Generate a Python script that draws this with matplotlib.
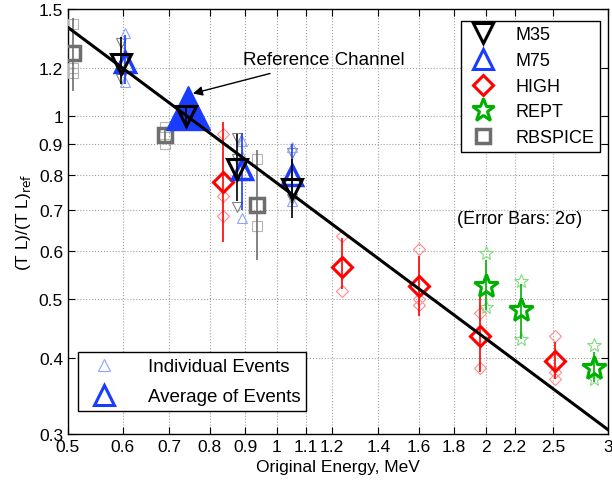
import numpy as np
import matplotlib
matplotlib.use("Agg")
import matplotlib.pyplot as plt
from matplotlib.lines import Line2D

plt.rcParams['font.family'] = ['Liberation Sans', 'DejaVu Sans']

# ---- data (energy MeV, ratio) ----
m35_x = [0.596, 0.74, 0.876, 1.05]
m35_y = [1.22, 1.0, 0.82, 0.76]
m35_lo = [1.13, 0.97, 0.725, 0.68]
m35_hi = [1.35, 1.03, 0.935, 0.85]
m35_ind_x = [0.596, 0.596, 0.876, 0.876, 0.876, 1.05, 1.05]
m35_ind_y = [1.32, 1.15, 0.92, 0.85, 0.71, 0.87, 0.73]

m75_x = [0.604, 0.745, 0.89, 1.05]
m75_y = [1.23, 1.03, 0.82, 0.80]
m75_lo = [1.13, 1.0, 0.70, 0.725]
m75_hi = [1.36, 1.05, 0.94, 0.90]
m75_ind_x = [0.604, 0.604, 0.89, 0.89, 0.89, 1.05, 1.05]
m75_ind_y = [1.37, 1.14, 0.91, 0.86, 0.68, 0.89, 0.725]

high_x = [0.836, 1.24, 1.60, 1.96, 2.52]
high_y = [0.78, 0.565, 0.525, 0.435, 0.395]
high_lo = [0.62, 0.52, 0.47, 0.38, 0.37]
high_hi = [0.98, 0.63, 0.59, 0.505, 0.425]
high_ind_x = [0.836, 0.836, 0.836, 1.24, 1.24, 1.60, 1.60, 1.60, 1.96, 1.96, 2.52, 2.52, 2.52]
high_ind_y = [0.935, 0.74, 0.685, 0.635, 0.515, 0.605, 0.50, 0.49, 0.475, 0.385, 0.435, 0.38, 0.37]

rept_x = [2.0, 2.25, 2.86]
rept_y = [0.525, 0.48, 0.385]
rept_lo = [0.48, 0.43, 0.365]
rept_hi = [0.58, 0.53, 0.41]
rept_ind_x = [2.0, 2.0, 2.25, 2.25, 2.86, 2.86]
rept_ind_y = [0.595, 0.485, 0.535, 0.43, 0.42, 0.37]

rbs_x = [0.508, 0.69, 0.937]
rbs_y = [1.27, 0.93, 0.715]
rbs_lo = [1.10, 0.90, 0.58]
rbs_hi = [1.45, 0.96, 0.88]
rbs_ind_x = [0.508, 0.508, 0.508, 0.69, 0.69, 0.937, 0.937]
rbs_ind_y = [1.42, 1.20, 1.18, 0.96, 0.90, 0.85, 0.66]

fit_x = [0.5, 3.0]
fit_y = [1.40, 0.305]

xticks = [0.5, 0.6, 0.7, 0.8, 0.9, 1, 1.1, 1.2, 1.4, 1.6, 1.8, 2, 2.2, 2.5, 3]
yticks = [0.3, 0.4, 0.5, 0.6, 0.7, 0.8, 0.9, 1, 1.2, 1.5]

fig = plt.figure(figsize=(6.12, 4.85), dpi=100)
ax = fig.add_axes([0.111, 0.103, 0.8825, 0.876])
ax.set_xscale('log')
ax.set_yscale('log')

# individual events
ax.plot(m35_ind_x, m35_ind_y, 'v', ms=7.5, mfc='none', mec='#808080', mew=0.8, zorder=3)
ax.plot(m75_ind_x, m75_ind_y, '^', ms=7.5, mfc='none', mec='#8ca4ff', mew=0.8, zorder=3)
ax.plot(high_ind_x, high_ind_y, 'D', ms=6.5, mfc='none', mec='#ff8c8c', mew=0.8, zorder=3)
ax.plot(rept_ind_x, rept_ind_y, '*', ms=10, mfc='none', mec='#80dc80', mew=0.8, zorder=3)
ax.plot(rbs_ind_x, rbs_ind_y, 's', ms=7.5, mfc='none', mec='#b4b4b4', mew=0.8, zorder=3)


def errs(y, lo, hi):
    y = np.array(y)
    return [y - np.array(lo), np.array(hi) - y]


# error bars + averages
ax.errorbar(rbs_x, rbs_y, yerr=errs(rbs_y, rbs_lo, rbs_hi), fmt='s', ms=10, mfc='none',
            mec='#6e6e6e', mew=2.5, ecolor='#6e6e6e', elinewidth=1.2, capsize=0, zorder=4)
ax.errorbar(high_x, high_y, yerr=errs(high_y, high_lo, high_hi), fmt='D', ms=10.5, mfc='none',
            mec='red', mew=2.2, ecolor='red', elinewidth=1.2, capsize=0, zorder=4)
ax.errorbar(rept_x, rept_y, yerr=errs(rept_y, rept_lo, rept_hi), fmt='*', ms=18, mfc='none',
            mec='#00b000', mew=2.2, ecolor='#00b000', elinewidth=1.2, capsize=0, zorder=4)
ax.errorbar(m75_x, m75_y, yerr=errs(m75_y, m75_lo, m75_hi), fmt='none',
            ecolor='#1a3cff', elinewidth=1.2, capsize=0, zorder=4)
ax.plot(m75_x[:1] + m75_x[2:], m75_y[:1] + m75_y[2:], '^', ms=14, mfc='none',
        mec='#1a3cff', mew=2.5, zorder=5)
ax.plot(m75_x[1], m75_y[1], '^', ms=32, mfc='#1a3cff', mec='#1a3cff', zorder=5)
ax.errorbar(m35_x, m35_y, yerr=errs(m35_y, m35_lo, m35_hi), fmt='v', ms=14, mfc='none',
            mec='black', mew=2.2, ecolor='black', elinewidth=1.2, capsize=0, zorder=6)

# fit line
ax.plot(fit_x, fit_y, '-', color='black', lw=2.2, zorder=7)

ax.set_xlim(0.5, 3)
ax.set_ylim(0.3, 1.5)
ax.set_xticks(xticks)
ax.set_xticklabels([f'{t:g}' for t in xticks])
ax.set_yticks(yticks)
ax.set_yticklabels([f'{t:g}' for t in yticks])
ax.minorticks_off()
ax.tick_params(direction='in', top=True, right=True, labelsize=12.5, length=5)
ax.grid(True, which='major', linestyle=':', color='#a0a0a0', lw=0.8)
for s in ax.spines.values():
    s.set_linewidth(1.0)

ax.set_xlabel('Original Energy, MeV', fontsize=12.5)
ax.set_ylabel('(T L)/(T L)$_{\\rm ref}$', fontsize=12.5)

ax.annotate('Reference Channel', xy=(0.757, 1.09), xytext=(0.895, 1.24),
            fontsize=13.5, ha='left', va='center',
            arrowprops=dict(arrowstyle='-|>', color='black', lw=1.0, mutation_scale=14,
                            shrinkA=8, shrinkB=0), zorder=8)
ax.text(2.24, 0.68, '(Error Bars: 2σ)', fontsize=13, ha='center', va='center')

h1 = [Line2D([], [], ls='none', marker='v', ms=14, mfc='none', mec='black', mew=2.2),
      Line2D([], [], ls='none', marker='^', ms=14, mfc='none', mec='#1a3cff', mew=2.2),
      Line2D([], [], ls='none', marker='D', ms=10.5, mfc='none', mec='red', mew=2.2),
      Line2D([], [], ls='none', marker='*', ms=17, mfc='none', mec='#00b000', mew=2.2),
      Line2D([], [], ls='none', marker='s', ms=10, mfc='none', mec='#6e6e6e', mew=2.5)]
leg1 = ax.legend(h1, ['M35', 'M75', 'HIGH', 'REPT', 'RBSPICE'], loc='upper right',
                 bbox_to_anchor=(0.985, 0.972), fontsize=13, fancybox=False,
                 edgecolor='black', framealpha=1, handletextpad=0.9, labelspacing=0.48,
                 borderpad=0.3, borderaxespad=0, handlelength=1.8)
leg1.get_frame().set_linewidth(1.0)
ax.add_artist(leg1)

h2 = [Line2D([], [], ls='none', marker='^', ms=8.5, mfc='none', mec='#8ca4ff', mew=0.8),
      Line2D([], [], ls='none', marker='^', ms=14, mfc='none', mec='#1a3cff', mew=2.2)]
leg2 = ax.legend(h2, ['Individual Events', 'Average of Events'], loc='lower left',
                 bbox_to_anchor=(0.019, 0.054), fontsize=13.5, fancybox=False,
                 edgecolor='black', framealpha=1, handletextpad=1.2, labelspacing=0.7,
                 borderpad=0.3, borderaxespad=0, handlelength=2.2)
leg2.get_frame().set_linewidth(1.0)

fig.savefig('out.png', dpi=100)
